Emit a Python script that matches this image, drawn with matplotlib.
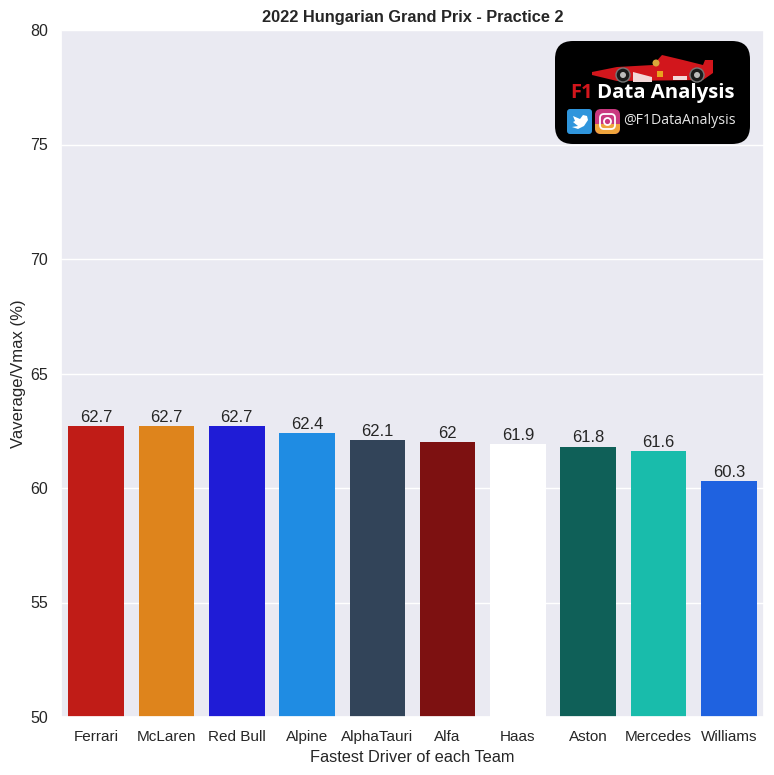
import matplotlib
matplotlib.use('Agg')
import matplotlib.pyplot as plt
import seaborn as sns
from matplotlib.patches import FancyBboxPatch, Polygon, Circle, Rectangle

teams = ['Ferrari', 'McLaren', 'Red Bull', 'Alpine', 'AlphaTauri', 'Alfa', 'Haas', 'Aston', 'Mercedes', 'Williams']
values = [62.7, 62.7, 62.7, 62.4, 62.1, 62, 61.9, 61.8, 61.6, 60.3]
labels = ['62.7', '62.7', '62.7', '62.4', '62.1', '62', '61.9', '61.8', '61.6', '60.3']
colors = ['#C01C17', '#DE841C', '#1F1CD6', '#1F8CE3', '#324459', '#7D1111', '#FFFFFF', '#0F6058', '#19BCAB', '#1F62E0']
yticks = [50, 55, 60, 65, 70, 75, 80]

W, H = 774, 775


def draw_logo(fig):
    # logo box, in pixels of the picture
    ax = fig.add_axes([0, 0, 1, 1], facecolor='none')
    ax.set_xlim(0, W)
    ax.set_ylim(H, 0)
    ax.axis('off')
    ax.add_patch(FancyBboxPatch((555, 41), 195, 103, boxstyle='round,pad=0,rounding_size=18',
                                fc='black', ec='none', clip_on=False))

    # car
    ax.add_patch(Polygon([(592, 72), (617, 67), (653, 65), (662, 55), (683, 60), (703, 65), (705, 60),
                          (713, 60), (713, 73), (703, 80), (617, 81), (592, 75)], fc='#D2161C', ec='none'))
    ax.add_patch(Polygon([(633, 72), (652, 77), (652, 82), (633, 82)], fc='#F2D8D8', ec='none'))
    ax.add_patch(Polygon([(673, 76), (687, 76), (687, 80), (673, 80)], fc='#F2D8D8', ec='none'))
    ax.add_patch(Circle((656, 63), 3.5, fc='#D9A63A', ec='none'))
    ax.add_patch(Rectangle((657, 71), 6, 6, fc='#E9A21E', ec='none'))
    for x in [623, 697]:
        ax.add_patch(Circle((x, 75), 7, fc='#1A1A1A', ec='#777777', lw=1))
        ax.add_patch(Circle((x, 75), 3, fc='#BBBBBB', ec='none'))

    ax.text(570, 93, 'F1', color='#D2161C', fontsize=14.5, fontweight='bold',
            family='Open Sans', ha='left', va='center')
    ax.text(597, 93, 'Data Analysis', color='white', fontsize=14.7, fontweight='bold',
            family='Open Sans', ha='left', va='center')

    # twitter and instagram squares
    ax.add_patch(FancyBboxPatch((567, 109), 25, 25, boxstyle='round,pad=0,rounding_size=3',
                                fc='#2F95DC', ec='none'))
    ax.add_patch(Polygon([(572, 127), (578, 126), (573, 122), (575, 121), (573, 116), (580, 119),
                          (583, 115), (587, 116), (588, 120), (584, 126), (578, 129)], fc='white', ec='none'))
    insta = FancyBboxPatch((595, 109), 25, 25, boxstyle='round,pad=0,rounding_size=6',
                           fc='#C9387F', ec='none')
    ax.add_patch(insta)
    lower = Rectangle((595, 124), 25, 10, fc='#EFA43C', ec='none')
    ax.add_patch(lower)
    lower.set_clip_path(insta)
    ax.add_patch(FancyBboxPatch((600, 114), 15, 15, boxstyle='round,pad=0,rounding_size=4',
                                fc='none', ec='white', lw=1.3))
    ax.add_patch(Circle((607.5, 121.5), 3.5, fc='none', ec='white', lw=1.3))
    ax.text(623, 121, '@F1DataAnalysis', color='#E6E6E6', fontsize=10.2,
            family='Open Sans', ha='left', va='center')


sns.set_theme(style='darkgrid')
plt.rcParams['font.family'] = ['Liberation Sans', 'DejaVu Sans']

fig = plt.figure(figsize=(W / 100, H / 100), dpi=100)
ax = fig.add_axes([61 / W, 1 - 717 / H, 703 / W, 687 / H])

bars = ax.bar(teams, values, width=0.79, color=colors, linewidth=0)
ax.bar_label(bars, labels=labels, fontsize=12, color='#262626', padding=1)

ax.set_xlim(-0.5, 9.5)
ax.set_ylim(50, 80)
ax.set_yticks(yticks)
ax.xaxis.grid(False)
ax.tick_params(axis='x', labelsize=11, pad=3.5)
ax.tick_params(axis='y', labelsize=11.5)
ax.set_title('2022 Hungarian Grand Prix - Practice 2', fontsize=11.8, fontweight='bold', pad=6)
ax.set_xlabel('Fastest Driver of each Team', fontsize=11.8, labelpad=4)
ax.set_ylabel('Vaverage/Vmax (%)', fontsize=12, labelpad=2.5)

draw_logo(fig)

fig.savefig('out.png', dpi=100)
